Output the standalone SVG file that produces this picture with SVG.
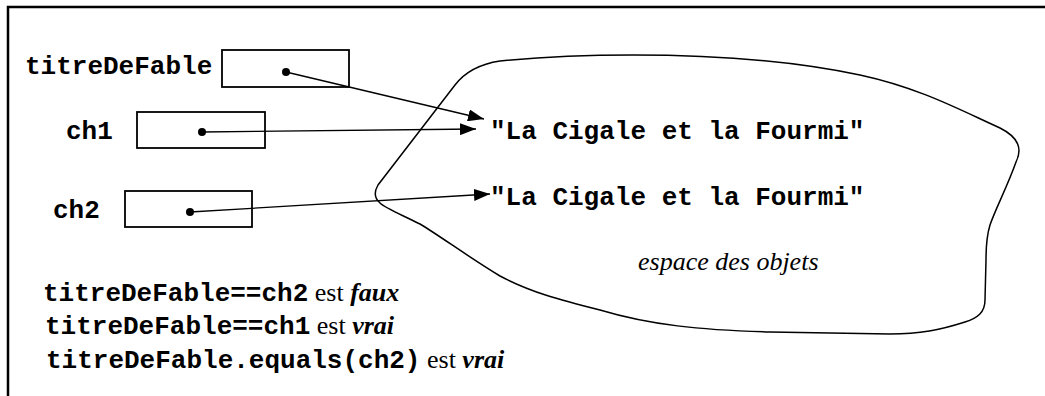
<svg xmlns="http://www.w3.org/2000/svg" width="1045" height="396" viewBox="0 0 1045 396">
  <style>
    .frame { fill: none; stroke: #000; stroke-width: 2.5; }
    .box { fill: #fff; stroke: #000; stroke-width: 1.8; }
    .blob { fill: none; stroke: #000; stroke-width: 1.5; }
    .ref { fill: none; stroke: #000; stroke-width: 1.3; }
    .dot { fill: #000; }
    .code { font-family: "Liberation Mono", "Courier New", monospace; font-weight: bold; font-size: 26px; fill: #000; }
    .serif { font-family: "Liberation Serif", "Times New Roman", serif; font-size: 26px; font-weight: normal; fill: #000; }
    .bi { font-style: italic; font-weight: bold; }
    .it { font-family: "Liberation Serif", "Times New Roman", serif; font-style: italic; font-size: 26px; fill: #000; }
  </style>
  <defs>
    <marker id="arrow" markerWidth="16" markerHeight="12" refX="16" refY="6" orient="auto" markerUnits="userSpaceOnUse">
      <path d="M0,0 L16,6 L0,12 Z" fill="#000"/>
    </marker>
  </defs>

  <rect width="1045" height="396" fill="#fff"/>
  <!-- page frame (top and left edges) -->
  <path class="frame" d="M8,396 L8,7 L1045,7"/>

  <!-- object space -->
  <g id="espace-objets">
    <path class="blob" d="M633,55 C720,55 800,62 860,75 C920,88 960,110 1000,128 C1020,138 1022,150 1016,162 C1008,185 995,210 990,225 C986,238 986,250 986,260 L985,300 C985,312 978,318 965,322 C940,330 920,334 890,334 L770,332 C700,330 650,325 600,310 C560,300 530,292 500,276 C470,258 440,236 420,224 C400,214 385,208 380,203 C374,198 374,192 378,185 L455,85 C465,72 480,64 500,61 C540,57 590,55 633,55 Z"/>
    <text class="it" x="638" y="270">espace des objets</text>
  </g>

  <g id="objet1">
    <text class="code" x="490" y="139">"La Cigale et la Fourmi"</text>
  </g>
  <g id="objet2">
    <text class="code" x="490" y="205">"La Cigale et la Fourmi"</text>
  </g>

  <g id="titreDeFable">
    <text class="code" x="25" y="74">titreDeFable</text>
    <rect class="box" x="222" y="50" width="127" height="37"/>
    <circle class="dot" cx="286" cy="72" r="4"/>
  </g>
  <g id="ch1">
    <text class="code" x="66" y="139">ch1</text>
    <rect class="box" x="137" y="112" width="128" height="36"/>
    <circle class="dot" cx="202" cy="132" r="4"/>
  </g>
  <g id="ch2">
    <text class="code" x="53" y="218">ch2</text>
    <rect class="box" x="125" y="191" width="127" height="36"/>
    <circle class="dot" cx="190" cy="212" r="4"/>
  </g>

  <!-- references -->
  <g id="connecteurs">
    <line class="ref" x1="286" y1="72" x2="484" y2="119" marker-end="url(#arrow)"/>
    <line class="ref" x1="202" y1="132" x2="476" y2="129" marker-end="url(#arrow)"/>
    <line class="ref" x1="190" y1="212" x2="490" y2="194" marker-end="url(#arrow)"/>
  </g>

  <!-- comparisons -->
  <g id="comparaisons">
    <text x="43" y="301"><tspan class="code">titreDeFable==ch2</tspan><tspan class="serif"> est </tspan><tspan class="serif bi">faux</tspan></text>
    <text x="45" y="334"><tspan class="code">titreDeFable==ch1</tspan><tspan class="serif"> est </tspan><tspan class="serif bi">vrai</tspan></text>
    <text x="46" y="368"><tspan class="code">titreDeFable.equals(ch2)</tspan><tspan class="serif"> est </tspan><tspan class="serif bi">vrai</tspan></text>
  </g>
</svg>
